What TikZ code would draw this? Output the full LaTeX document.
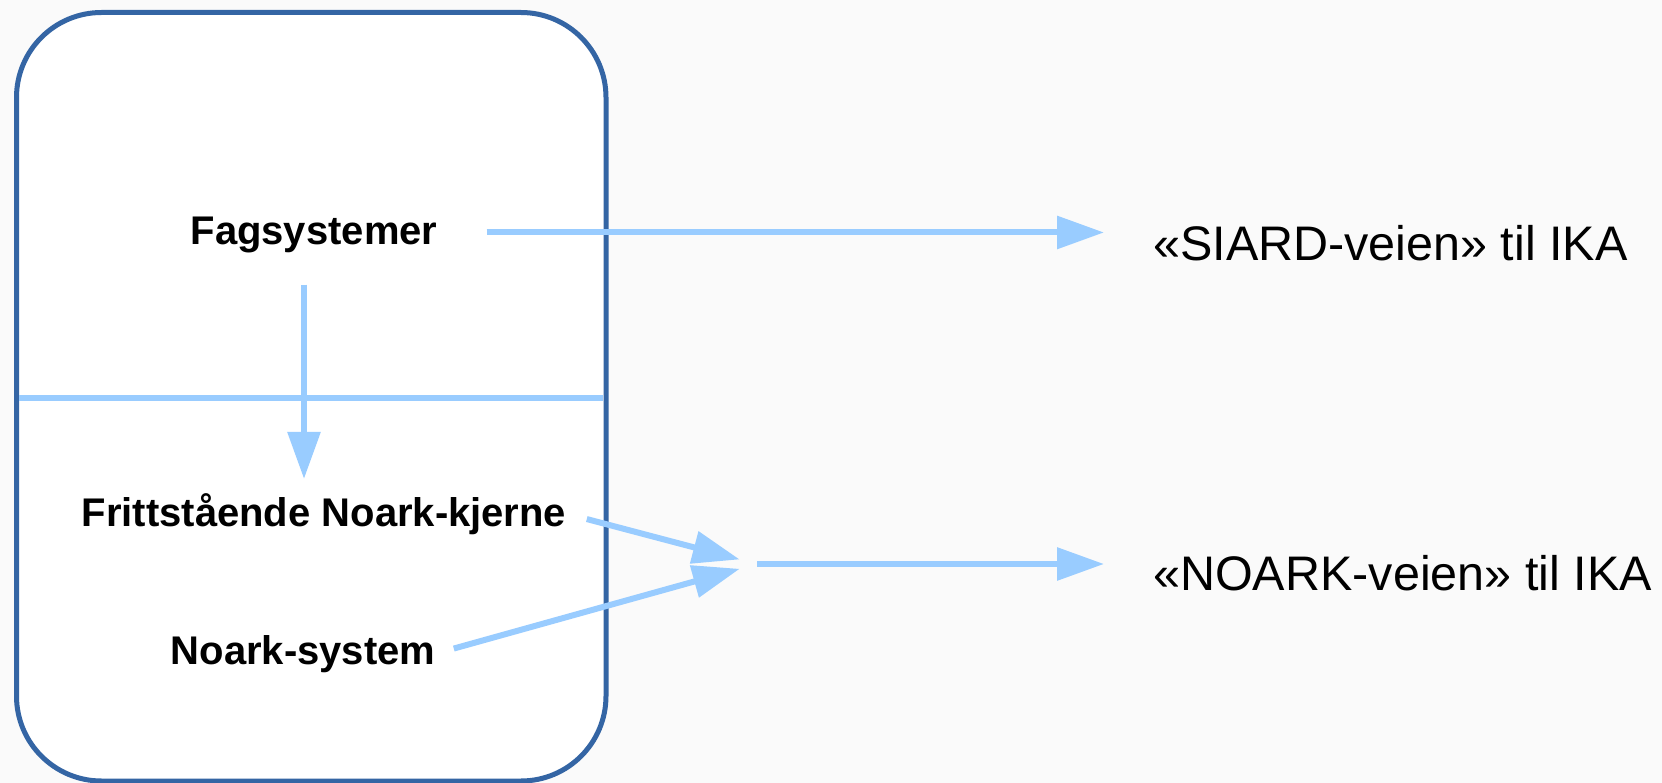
\documentclass[tikz,border=0pt]{standalone}
\usepackage{fontspec}
\setmainfont{Liberation Sans}
\usetikzlibrary{arrows.meta, positioning}
\definecolor{lysblaa}{HTML}{99CCFF}
\definecolor{rammeblaa}{HTML}{3465A4}
\definecolor{bakgrunn}{HTML}{FAFAFA}

\begin{document}
\begin{tikzpicture}[x=1pt, y=-1pt,
    flyt/.style={draw=lysblaa, line width=6pt, -{Triangle[length=47pt, width=32pt]}},
    sys/.style={inner sep=0pt, anchor=base, font=\fontsize{40}{48}\selectfont\bfseries},
    vei/.style={inner sep=0pt, anchor=base west, font=\fontsize{48.5}{58}\selectfont}]
    \useasboundingbox[fill=bakgrunn] (0,0) rectangle (1662,783);

    % Ramme
    \draw[rammeblaa, fill=white, line width=5pt, rounded corners=85pt] (16.5,12.5) rectangle (606,781);
    \draw[lysblaa, line width=6pt] (19,398) -- (603,398);

    % Systemer
    \node[sys] (fag) at (314,245) {Fagsystemer};
    \node[sys] (kjerne) at (324,526) {Frittstående Noark-kjerne};
    \node[sys] (noarksys) at (303,664) {Noark-system};

    % Veier til IKA
    \node[vei] (siard) at (1153,261) {«SIARD-veien» til IKA};
    \node[vei] (noark) at (1153,590) {«NOARK-veien» til IKA};
    \coordinate (join) at (757,564);

    % Piler
    \draw[flyt, shorten <=49pt, shorten >=49pt] ([yshift=3pt]fag.east) -- ([yshift=3pt]fag.east -| siard.west);
    \draw[flyt, shorten <=31pt, shorten >=14pt] ([xshift=-10pt]fag.south) -- ([xshift=-20pt]kjerne.north);
    \draw[flyt, shorten <=21pt, shorten >=18pt] (kjerne.east) -- (join);
    \draw[flyt, shorten <=19pt, shorten >=18pt] (noarksys.east) -- (join);
    \draw[flyt, shorten >=49pt] (join) -- (join -| noark.west);

\end{tikzpicture}
\end{document}
